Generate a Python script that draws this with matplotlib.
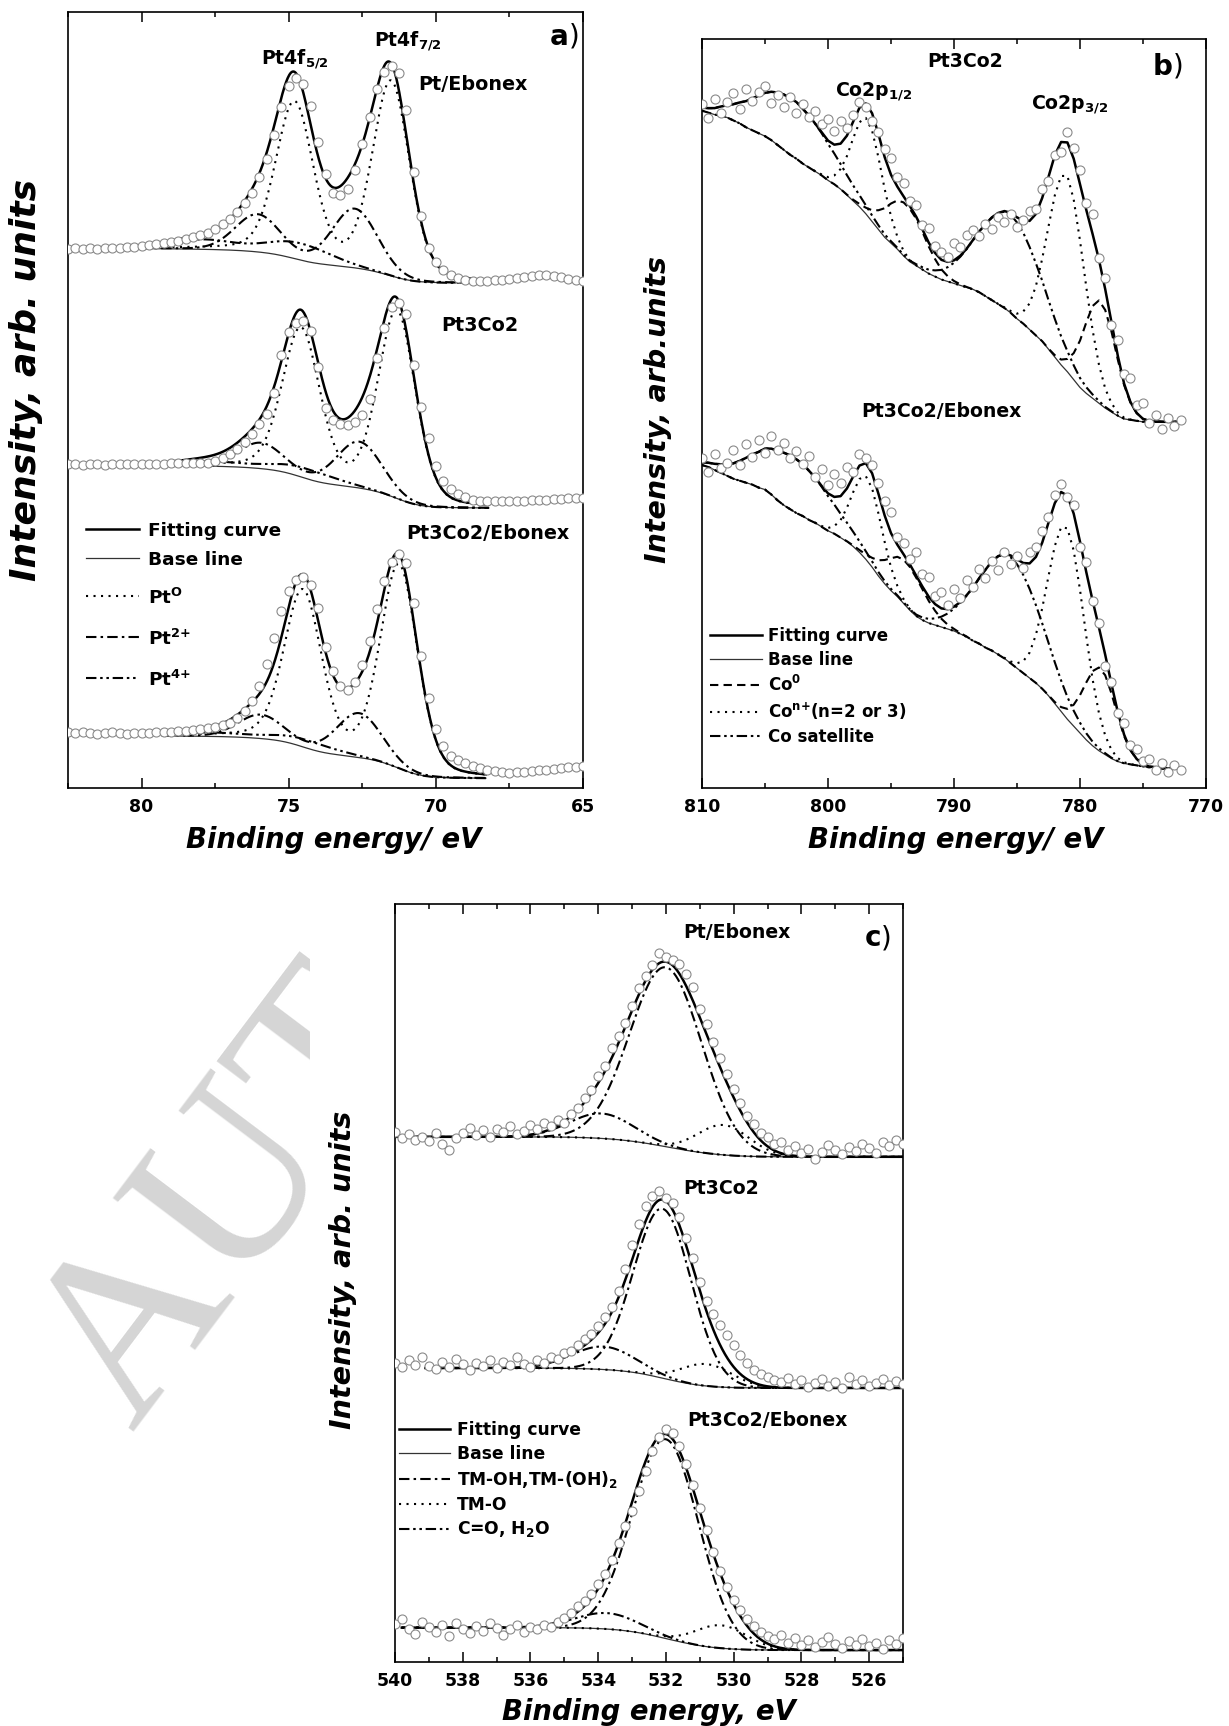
import numpy as np
import matplotlib.pyplot as plt
from matplotlib.ticker import MultipleLocator
from matplotlib.transforms import Bbox

plt.rcParams['font.family'] = ['DejaVu Sans']
plt.rcParams['font.weight'] = 'bold'
plt.rcParams['axes.labelweight'] = 'bold'
plt.rcParams['mathtext.fontset'] = 'dejavusans'
plt.rcParams['mathtext.default'] = 'bf'

# ---------------- panel a: Pt 4f (y in arbitrary units, stacked) ----------------
a_energy = np.linspace(82.5, 65.0, 71)
a_pt_ebonex = [549, 550, 549, 550, 549, 550, 550, 550, 551, 551,
               552, 553, 554, 555, 556, 557, 559, 561, 563, 565,
               569, 574, 579, 586, 595, 606, 622, 640, 665, 693,
               714, 723, 716, 694, 657, 625, 606, 603, 610, 629,
               655, 683, 711, 729, 735, 728, 690, 627, 582, 550,
               535, 527, 522, 519, 517, 516, 516, 516, 517, 517,
               518, 519, 520, 521, 522, 522, 521, 520, 518, 517,
               516]
a_pt3co2 = [330, 330, 329, 330, 330, 329, 330, 330, 330, 330,
            330, 330, 330, 330, 331, 331, 331, 331, 331, 331,
            333, 336, 340, 345, 352, 360, 370, 381, 402, 441,
            464, 473, 475, 465, 428, 387, 374, 370, 369, 372,
            380, 396, 438, 468, 490, 494, 482, 430, 388, 356,
            328, 312, 304, 299, 296, 293, 292, 292, 292, 292,
            292, 292, 292, 293, 293, 293, 294, 294, 295, 295,
            295]
a_pt3co2_ebonex = [57, 56, 57, 56, 55, 56, 57, 56, 55, 56,
                   56, 56, 57, 57, 57, 58, 58, 59, 60, 61,
                   62, 64, 66, 71, 78, 89, 104, 126, 153, 180,
                   200, 212, 215, 207, 183, 143, 119, 104, 100, 108,
                   125, 150, 182, 211, 230, 238, 229, 188, 134, 92,
                   60, 43, 33, 28, 25, 22, 20, 18, 17, 16,
                   15, 16, 16, 17, 18, 18, 19, 20, 21, 21,
                   22]
a_names = ['Pt/Ebonex', 'Pt3Co2', 'Pt3Co2/Ebonex']
a_fit_range = [(81.5, 68.8), (79.0, 68.2), (79.3, 68.3)]
a_base_left = [549, 328, 53]
a_base_right = [514, 285, 10]
a_pt0_pos = [[71.52, 74.80], [71.32, 74.58], [71.25, 74.52]]
a_pt0_height = [[197, 158], [190, 150], [206, 158]]
a_pt2_pos = [[72.75, 76.05], [72.60, 75.95], [72.60, 75.95]]
a_pt2_height = [[60, 38], [47, 26], [45, 24]]
a_pt4_pos = [[74.6, 77.9], [74.4, 77.7], [74.4, 77.7]]
a_pt4_height = [[17, 10], [10, 5], [8, 4]]
a_fwhm = [1.5, 1.8, 2.5]   # Pt0, Pt2+, Pt4+

# ---------------- panel b: Co 2p ----------------
b_energy = np.linspace(810.0, 772.0, 77)
b_pt3co2 = [697, 683, 702, 688, 699, 708, 692, 712, 700, 709,
            715, 698, 706, 694, 704, 688, 697, 684, 690, 676,
            681, 669, 679, 672, 686, 699, 694, 679, 668, 651,
            642, 622, 616, 598, 594, 574, 570, 552, 546, 541,
            555, 551, 563, 568, 562, 575, 569, 582, 577, 585,
            571, 579, 588, 590, 610, 618, 645, 648, 668, 652,
            630, 596, 585, 540, 520, 472, 456, 422, 418, 390,
            392, 372, 380, 366, 377, 369, 375]
b_pt3co2_base = [690, 688, 686, 685, 683, 680, 677, 673, 670, 667,
                 664, 660, 655, 650, 645, 641, 636, 632, 628, 624,
                 619, 615, 610, 604, 598, 592, 585, 577, 569, 561,
                 555, 549, 542, 536, 532, 528, 524, 521, 518, 516,
                 514, 512, 510, 508, 505, 501, 497, 493, 489, 484,
                 478, 473, 467, 461, 455, 447, 439, 431, 424, 416,
                 408, 402, 397, 392, 387, 383, 379, 376, 375, 374,
                 373, 373, 373, 373, 373, 373, 373]
b_pt3co2_ebonex = [336, 322, 340, 326, 331, 344, 329, 350, 337, 354,
                   341, 359, 344, 351, 336, 343, 330, 338, 317, 325,
                   309, 320, 311, 327, 322, 340, 336, 329, 311, 292,
                   281, 256, 250, 233, 240, 218, 215, 196, 200, 186,
                   203, 194, 212, 205, 223, 214, 231, 222, 240, 228,
                   236, 224, 240, 246, 262, 276, 298, 310, 296, 288,
                   246, 230, 190, 168, 124, 108, 76, 66, 44, 40,
                   27, 30, 18, 25, 16, 23, 18]
b_pt3co2_ebonex_base = [329, 327, 324, 321, 318, 315, 313, 311, 309, 306,
                        304, 299, 293, 288, 284, 280, 277, 273, 270, 266,
                        262, 259, 255, 251, 246, 240, 233, 225, 216, 208,
                        201, 195, 188, 181, 175, 171, 168, 166, 164, 162,
                        160, 157, 154, 150, 147, 143, 140, 136, 132, 127,
                        122, 117, 112, 107, 101, 94, 86, 78, 70, 63,
                        56, 49, 43, 38, 34, 30, 27, 25, 24, 23,
                        22, 21, 21, 20, 20, 20, 20]
b_co0_pos = [778.4, 793.8]
b_co0_fwhm = [3.0, 3.6]
b_con_pos = [781.1, 796.9]
b_con_fwhm = [3.4, 2.8]
b_sat_pos = [785.5, 802.8]
b_sat_fwhm = [6.0, 7.0]
b_co0_height = [[105, 55], [85, 45]]
b_con_height = [[200, 98], [195, 85]]
b_sat_height = [[100, 58], [108, 55]]

# ---------------- panel c: O 1s ----------------
c_energy = np.linspace(540.0, 525.0, 76)
c_pt_ebonex = [532, 526, 530, 524, 527, 523, 531, 520, 514, 526,
               531, 536, 529, 534, 527, 535, 532, 538, 530, 533,
               539, 535, 541, 538, 544, 541, 550, 556, 566, 574,
               588, 598, 616, 628, 641, 658, 676, 688, 699, 712,
               708, 705, 700, 690, 677, 655, 640, 622, 606, 590,
               575, 561, 548, 540, 531, 527, 520, 522, 514, 518,
               511, 515, 505, 512, 519, 514, 510, 517, 513, 520,
               516, 511, 522, 518, 524, 520]
c_pt3co2 = [300, 296, 303, 298, 306, 297, 294, 301, 296, 304,
            299, 293, 300, 297, 303, 295, 301, 298, 306, 299,
            296, 303, 300, 306, 304, 310, 312, 318, 324, 329,
            337, 346, 356, 372, 394, 418, 440, 458, 468, 473,
            466, 461, 447, 426, 405, 381, 362, 349, 338, 328,
            318, 308, 300, 293, 289, 286, 283, 281, 285, 279,
            283, 276, 280, 284, 277, 281, 275, 286, 279, 283,
            277, 280, 284, 278, 282, 279]
c_pt3co2_ebonex = [38, 43, 33, 28, 40, 35, 30, 37, 26, 39,
                   33, 29, 36, 31, 39, 34, 27, 33, 37, 30,
                   35, 33, 37, 35, 40, 44, 49, 56, 61, 68,
                   78, 88, 102, 119, 136, 152, 172, 192, 212, 226,
                   234, 230, 217, 199, 178, 155, 132, 110, 91, 75,
                   62, 52, 43, 36, 30, 26, 23, 27, 19, 24,
                   17, 22, 15, 20, 25, 18, 14, 21, 17, 23,
                   16, 19, 13, 22, 18, 24]
c_names = ['Pt/Ebonex', 'Pt3Co2', 'Pt3Co2/Ebonex']
c_fit_range = [(540.0, 525.0), (539.1, 525.0), (539.8, 525.0)]
c_base_left = [527, 295, 34.5]
c_base_right = [507, 275, 12]
c_tmoh_pos = [532.00, 532.10, 532.00]
c_tmoh_height = [180, 170, 200]
c_tmoh_fwhm = [2.5, 2.0, 2.3]
c_tmo_pos = [530.30, 530.80, 530.37]
c_tmo_height = [30, 22, 23]
c_co_pos = [533.90, 533.84, 533.74]
c_co_height = [25, 23, 16]

# ---------------- styles ----------------
DOT = (0, (1.0, 2.6))
DASHDOT = (0, (5.0, 2.0, 1.2, 2.0))
DASHDOTDOT = (0, (5.0, 1.8, 1.2, 1.8, 1.2, 1.8))
DASH = (0, (4.0, 2.5))
LW = 1.5
MARK = dict(ls='none', marker='o', ms=6.5, mfc='white', mec='#8a8a8a', mew=0.8, zorder=4)
FIT = dict(color='black', lw=1.8, zorder=3)
BASE = dict(color='#333333', lw=0.9, zorder=2)


def peak(x, pos, height, fwhm, eta=0.0):
    t = (x - pos) / fwhm
    return height * ((1 - eta) * np.exp(-4 * np.log(2) * t ** 2) + eta / (1 + 4 * t ** 2))


def shirley(total, left, right):
    # x runs from high to low binding energy
    area = np.cumsum(total[::-1])[::-1]
    return right + (left - right) * area / area[0]


def style(ax, major, minor):
    ax.xaxis.set_major_locator(MultipleLocator(major))
    ax.xaxis.set_minor_locator(MultipleLocator(minor))
    ax.tick_params(axis='x', which='both', direction='in', top=True, bottom=True, width=1.1)
    ax.tick_params(axis='x', which='major', length=7, pad=7, labelsize=12.5)
    ax.tick_params(axis='x', which='minor', length=3.5)
    ax.tick_params(axis='y', which='both', left=False, labelleft=False)
    for s in ax.spines.values():
        s.set_linewidth(1.2)


def panel_label(ax, x, y, letter):
    ax.text(x, y, letter, transform=ax.transAxes, ha='right', va='baseline',
            fontsize=20, fontweight='bold')
    ax.text(x, y, ')', transform=ax.transAxes, ha='left', va='baseline',
            fontsize=20, fontweight='normal')


W, H = 1229.0, 1726.0


def box(l, r, t, b):
    return [l / W, (H - b) / H, (r - l) / W, (b - t) / H]


fig = plt.figure(figsize=(12.29, 17.26), dpi=100)

# watermark behind panel c, hidden right of the panel's image edge as in the original
wm = fig.text(132 / W, 1 - 1432 / H, 'AUT', rotation=53, rotation_mode='anchor',
              ha='left', va='baseline', fontsize=172, family='Liberation Serif',
              fontweight='normal', color='#d5d5d5', zorder=-1)
wm.set_clip_box(Bbox.from_extents(0, 0, 310, H))
wm.set_clip_on(True)

ax_a = fig.add_axes(box(68, 583, 12, 788))
ax_b = fig.add_axes(box(702, 1206, 39, 788))
ax_c = fig.add_axes(box(395, 903, 904, 1662))

# ---------- panel a ----------
for k, meas in enumerate([a_pt_ebonex, a_pt3co2, a_pt3co2_ebonex]):
    hi, lo = a_fit_range[k]
    x = np.linspace(hi, lo, 500)
    pt0 = sum(peak(x, p, h, a_fwhm[0], 0.25) for p, h in zip(a_pt0_pos[k], a_pt0_height[k]))
    pt2 = sum(peak(x, p, h, a_fwhm[1], 0.1) for p, h in zip(a_pt2_pos[k], a_pt2_height[k]))
    pt4 = sum(peak(x, p, h, a_fwhm[2], 0.0) for p, h in zip(a_pt4_pos[k], a_pt4_height[k]))
    total = pt0 + pt2 + pt4
    base = shirley(total, a_base_left[k], a_base_right[k])
    ax_a.plot(x, base, **BASE)
    ax_a.plot(x, base + pt0, color='black', lw=LW, ls=DOT)
    ax_a.plot(x, base + pt2, color='black', lw=LW, ls=DASHDOT)
    ax_a.plot(x, base + pt4, color='black', lw=LW, ls=DASHDOTDOT)
    ax_a.plot(x, base + total, **FIT)
    ax_a.plot(a_energy, meas, **MARK)

ax_a.set_xlim(82.5, 65)
ax_a.set_ylim(0, 789.7)
style(ax_a, 5, 2.5)
ax_a.set_xlabel('Binding energy/ eV', fontsize=19.8, fontstyle='italic', fontweight='bold')
ax_a.xaxis.set_label_coords(0.515, -0.049)
ax_a.set_ylabel('Intensity, arb. units', fontsize=26, fontstyle='italic', fontweight='bold')
ax_a.yaxis.set_label_coords(-0.0485, 0.526)
ax_a.text(0.440, 0.939, 'Pt4f$_{5/2}$', transform=ax_a.transAxes, ha='center', va='center', fontsize=13.5)
ax_a.text(0.659, 0.963, 'Pt4f$_{7/2}$', transform=ax_a.transAxes, ha='center', va='center', fontsize=13.5)
ax_a.text(0.786, 0.906, a_names[0], transform=ax_a.transAxes, ha='center', va='center', fontsize=13.8)
ax_a.text(0.800, 0.596, a_names[1], transform=ax_a.transAxes, ha='center', va='center', fontsize=13.8)
ax_a.text(0.816, 0.328, a_names[2], transform=ax_a.transAxes, ha='center', va='center', fontsize=13.8)
panel_label(ax_a, 0.972, 0.958, 'a')

# legend of panel a, spaced like the original
a_labels = ['Fitting curve', 'Base line', 'Pt$^{O}$', 'Pt$^{2{+}}$', 'Pt$^{4{+}}$']
a_styles = [FIT, BASE, dict(color='black', lw=LW, ls=DOT),
            dict(color='black', lw=LW, ls=DASHDOT), dict(color='black', lw=LW, ls=DASHDOTDOT)]
a_rows = [0.334, 0.296, 0.247, 0.195, 0.142]
for st, lab, yr in zip(a_styles, a_labels, a_rows):
    ax_a.plot([0.034, 0.137], [yr, yr], transform=ax_a.transAxes, clip_on=False, **st)
    ax_a.text(0.155, yr, lab, transform=ax_a.transAxes, ha='left', va='center_baseline',
              fontsize=13.3)

# ---------- panel b ----------
b_handles = None
for k, (meas, base) in enumerate([(b_pt3co2, b_pt3co2_base),
                                  (b_pt3co2_ebonex, b_pt3co2_ebonex_base)]):
    x = b_energy
    base = np.asarray(base, dtype=float)
    co0 = sum(peak(x, p, h, w) for p, h, w in zip(b_co0_pos, b_co0_height[k], b_co0_fwhm))
    con = sum(peak(x, p, h, w) for p, h, w in zip(b_con_pos, b_con_height[k], b_con_fwhm))
    sat = sum(peak(x, p, h, w) for p, h, w in zip(b_sat_pos, b_sat_height[k], b_sat_fwhm))
    total = co0 + con + sat
    l_base, = ax_b.plot(x, base, **BASE)
    l_co0, = ax_b.plot(x, base + co0, color='black', lw=LW, ls=DASH)
    l_con, = ax_b.plot(x, base + con, color='black', lw=LW, ls=DOT)
    l_sat, = ax_b.plot(x, base + sat, color='black', lw=LW, ls=DASHDOTDOT)
    l_fit, = ax_b.plot(x, base + total, **FIT)
    ax_b.plot(x, meas, **MARK)
    if b_handles is None:
        b_handles = [l_fit, l_base, l_co0, l_con, l_sat]

ax_b.set_xlim(810, 770)
ax_b.set_ylim(0, 763)
style(ax_b, 10, 5)
ax_b.set_xlabel('Binding energy/ eV', fontsize=19.8, fontstyle='italic', fontweight='bold')
ax_b.xaxis.set_label_coords(0.504, -0.0507)
ax_b.set_ylabel('Intensity, arb.units', fontsize=20.5, fontstyle='italic', fontweight='bold')
ax_b.yaxis.set_label_coords(-0.0595, 0.505)
ax_b.text(0.522, 0.970, 'Pt3Co2', transform=ax_b.transAxes, ha='center', va='center', fontsize=13.6)
ax_b.text(0.341, 0.930, 'Co2p$_{1/2}$', transform=ax_b.transAxes, ha='center', va='center', fontsize=13.6)
ax_b.text(0.730, 0.912, 'Co2p$_{3/2}$', transform=ax_b.transAxes, ha='center', va='center', fontsize=13.6)
ax_b.text(0.474, 0.503, 'Pt3Co2/Ebonex', transform=ax_b.transAxes, ha='center', va='center', fontsize=13.6)
panel_label(ax_b, 0.9345, 0.952, 'b')
ax_b.legend(b_handles, ['Fitting curve', 'Base line', 'Co$^{0}$', 'Co$^{n{+}}$(n=2 or 3)', 'Co satellite'],
            loc='upper left', bbox_to_anchor=(0.016, 0.215), frameon=False,
            borderpad=0, borderaxespad=0, handlelength=3.1, handletextpad=0.4,
            labelspacing=0.35, fontsize=12)

# ---------- panel c ----------
c_handles = None
for k, meas in enumerate([c_pt_ebonex, c_pt3co2, c_pt3co2_ebonex]):
    hi, lo = c_fit_range[k]
    x = np.linspace(hi, lo, 500)
    tmoh = peak(x, c_tmoh_pos[k], c_tmoh_height[k], c_tmoh_fwhm[k])
    tmo = peak(x, c_tmo_pos[k], c_tmo_height[k], 1.8)
    co = peak(x, c_co_pos[k], c_co_height[k], 2.2)
    total = tmoh + tmo + co
    base = shirley(total, c_base_left[k], c_base_right[k])
    l_base, = ax_c.plot(x, base, **BASE)
    l_tmoh, = ax_c.plot(x, base + tmoh, color='black', lw=LW, ls=DASHDOT)
    l_tmo, = ax_c.plot(x, base + tmo, color='black', lw=LW, ls=DOT)
    l_co, = ax_c.plot(x, base + co, color='black', lw=LW, ls=DASHDOTDOT)
    l_fit, = ax_c.plot(x, base + total, **FIT)
    ax_c.plot(c_energy, meas, **MARK)
    if c_handles is None:
        c_handles = [l_fit, l_base, l_tmoh, l_tmo, l_co]

ax_c.set_xlim(540, 525)
ax_c.set_ylim(0, 760.7)
style(ax_c, 2, 1)
ax_c.set_xlabel('Binding energy, eV', fontsize=19.8, fontstyle='italic', fontweight='bold')
ax_c.xaxis.set_label_coords(0.5, -0.0475)
ax_c.set_ylabel('Intensity, arb. units', fontsize=20.6, fontstyle='italic', fontweight='bold')
ax_c.yaxis.set_label_coords(-0.0748, 0.517)
ax_c.text(0.672, 0.963, c_names[0], transform=ax_c.transAxes, ha='center', va='center', fontsize=13.6)
ax_c.text(0.641, 0.625, c_names[1], transform=ax_c.transAxes, ha='center', va='center', fontsize=13.6)
ax_c.text(0.733, 0.318, c_names[2], transform=ax_c.transAxes, ha='center', va='center', fontsize=13.6)
panel_label(ax_c, 0.957, 0.944, 'c')
ax_c.legend(c_handles, ['Fitting curve', 'Base line', 'TM-OH,TM-(OH)$_2$', 'TM-O', 'C=O, H$_2$O'],
            loc='upper left', bbox_to_anchor=(0.007, 0.3185), frameon=False,
            borderpad=0, borderaxespad=0, handlelength=3.0, handletextpad=0.4,
            labelspacing=0.35, fontsize=12.3)

fig.savefig('out.png', dpi=100)
